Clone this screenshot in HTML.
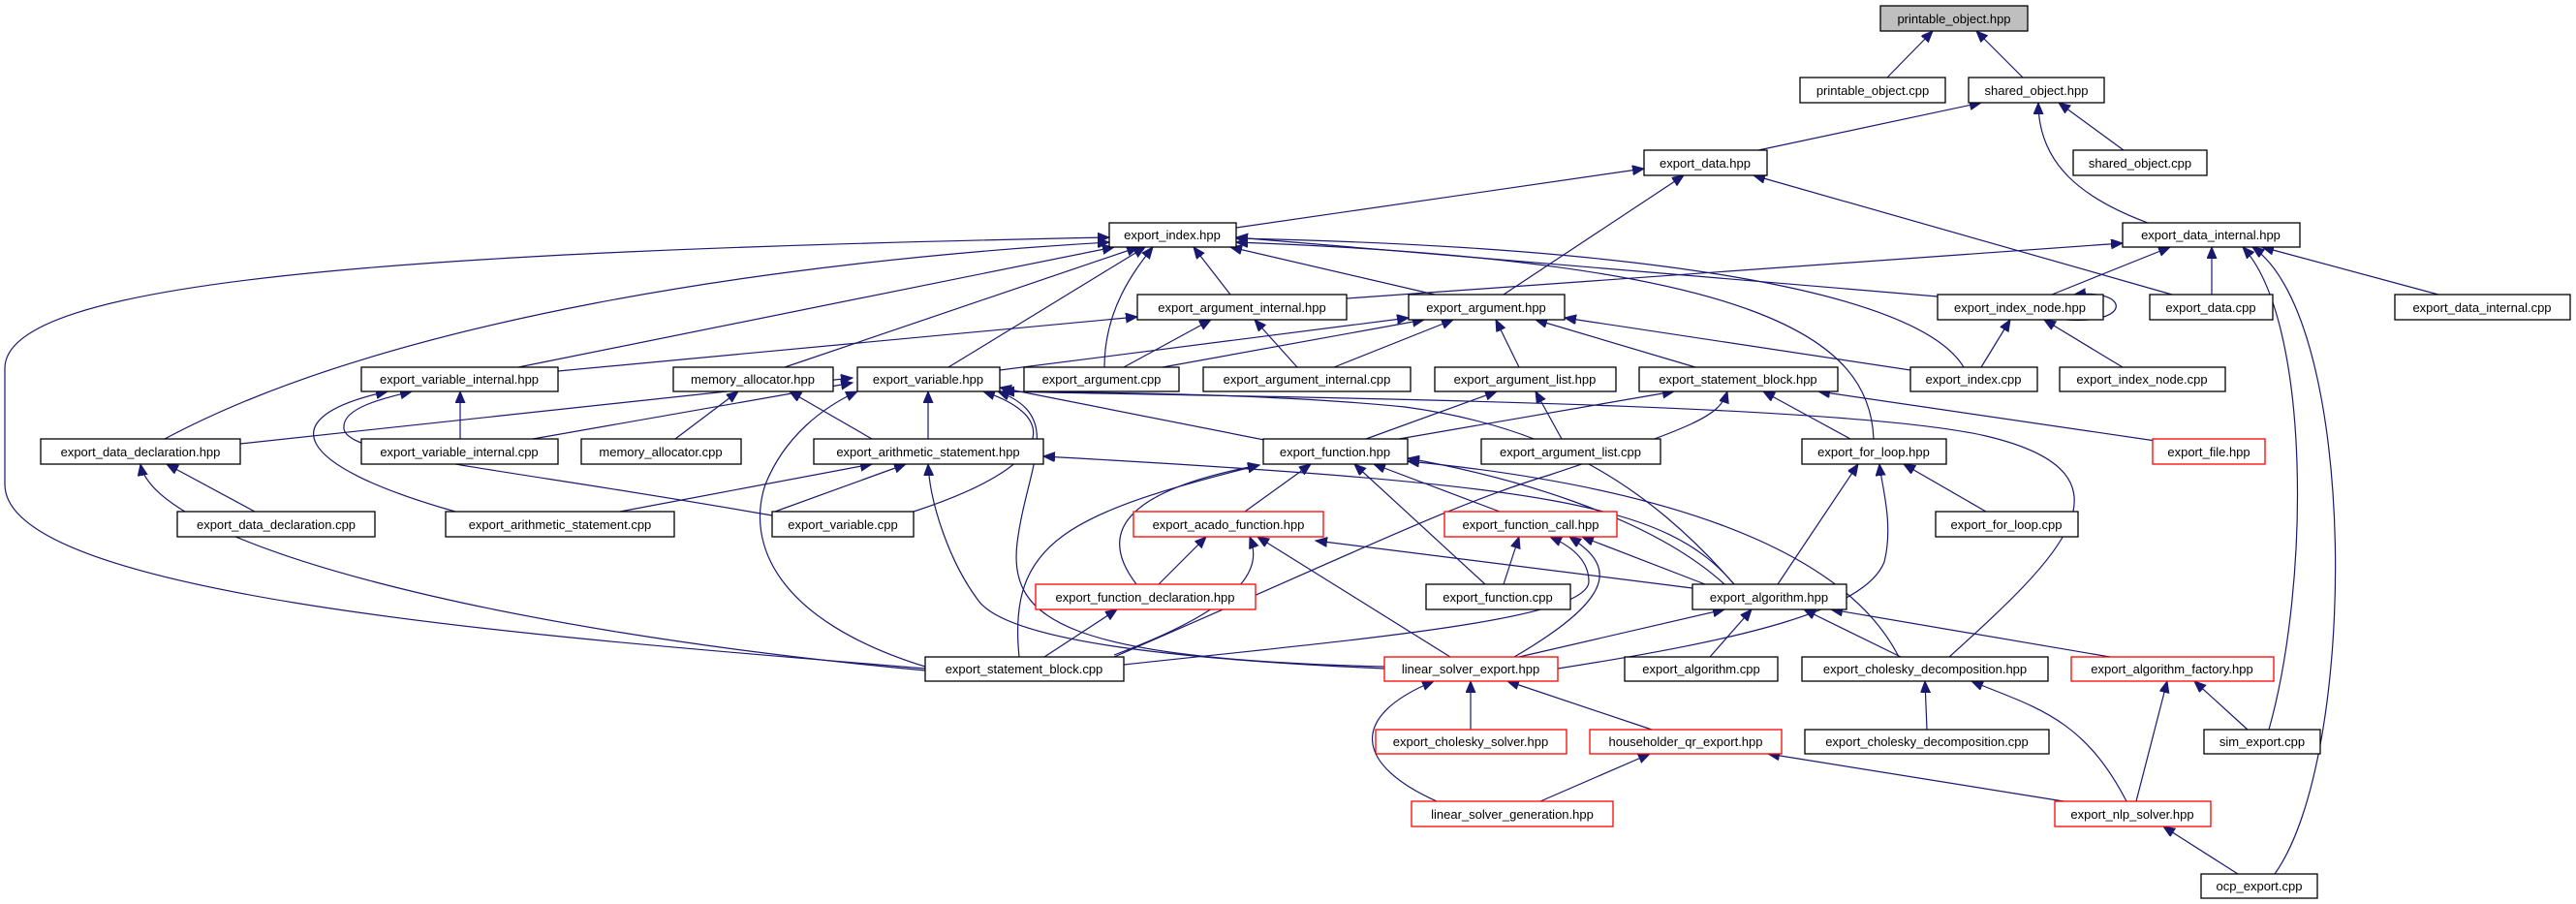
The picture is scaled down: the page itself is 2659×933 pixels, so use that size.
<!DOCTYPE html>
<html><head><meta charset="utf-8"><style>
html,body{margin:0;padding:0;background:#fff;}
svg{display:block;}
text{font-family:"Liberation Sans","DejaVu Sans",sans-serif;font-size:13px;fill:#000;}
.n rect{fill:#fff;stroke:#000;stroke-width:1.3;}
.r rect{fill:#fff;stroke:#ff0000;stroke-width:1.3;}
.e path{fill:none;stroke:#191970;stroke-width:1.2;marker-end:url(#a);}
</style></head><body>
<svg width="2659" height="933" viewBox="0 0 2659 933" xmlns="http://www.w3.org/2000/svg">
<defs><marker id="a" markerUnits="userSpaceOnUse" markerWidth="14" markerHeight="12" refX="12" refY="5" orient="auto"><path d="M0,0 L12,5 L0,10 z" fill="#191970" stroke="#191970"/></marker></defs>
<g class="e">
<path d="M1948,80 L1995,32"/>
<path d="M2088,80 L2040,32"/>
<path d="M1815,155 L2045,106"/>
<path d="M2192,155 L2125,106"/>
<path d="M2217,230 C2150,205 2104,170 2104,106"/>
<path d="M1276,235 L1697,174"/>
<path d="M1552,304 L1738,181"/>
<path d="M2242,304 L1810,181"/>
<path d="M1390,308 L2191,251"/>
<path d="M2118,304 L2240,255"/>
<path d="M2283,304 L2283,255"/>
<path d="M2517,304 L2335,255"/>
<path d="M2342,753 C2385,600 2385,330 2315,255"/>
<path d="M2348,902 C2435,780 2435,330 2325,255"/>
<path d="M2000,306 L1276,245"/>
<path d="M2133,330 C2200,335 2200,298 2141,304"/>
<path d="M2045,379 L2075,330"/>
<path d="M2191,379 L2110,330"/>
<path d="M2027,379 C1980,300 1700,255 1276,246"/>
<path d="M1934,453 C1930,350 1820,270 1276,250"/>
<path d="M1270,304 L1232,255"/>
<path d="M1481,304 L1270,255"/>
<path d="M979,379 L1182,255"/>
<path d="M1140,379 C1140,320 1170,280 1190,255"/>
<path d="M810,379 L1175,255"/>
<path d="M535,379 L1150,255"/>
<path d="M170,453 C400,330 800,270 1145,250"/>
<path d="M955,690 C600,660 5,620 5,500 L5,380 C5,290 400,260 1145,245"/>
<path d="M576,383 L1174,327"/>
<path d="M1160,379 L1250,330"/>
<path d="M1339,379 L1295,330"/>
<path d="M1032,382 L1454,328"/>
<path d="M1200,379 L1470,330"/>
<path d="M1377,379 L1500,330"/>
<path d="M1568,379 L1544,330"/>
<path d="M1750,379 L1585,330"/>
<path d="M1972,382 L1615,328"/>
<path d="M475,453 L475,404"/>
<path d="M470,528 C300,480 280,430 400,404"/>
<path d="M797,532 C500,480 350,470 355,440 C355,420 400,410 425,404"/>
<path d="M697,453 L762,404"/>
<path d="M900,453 L815,404"/>
<path d="M248,458 L880,390"/>
<path d="M550,453 L880,395"/>
<path d="M958,453 L958,404"/>
<path d="M943,528 C1090,480 1095,430 1015,404"/>
<path d="M1310,455 L1032,400"/>
<path d="M955,688 C800,640 770,560 790,500 C810,450 850,420 885,404"/>
<path d="M1429,688 C1100,680 1040,640 1050,560 C1060,480 1100,430 1030,404"/>
<path d="M2012,678 C2120,580 2220,490 2050,450 C1900,415 1300,410 1035,404"/>
<path d="M1790,603 C1700,500 1600,440 1450,420 C1300,405 1100,405 1035,404"/>
<path d="M263,528 L172,479"/>
<path d="M955,692 C500,650 160,560 145,479"/>
<path d="M640,528 L900,479"/>
<path d="M800,528 L935,479"/>
<path d="M1429,690 C1200,680 1040,660 1010,620 C980,580 960,520 958,479"/>
<path d="M1790,603 C1720,520 1600,500 1077,471"/>
<path d="M1410,453 L1545,404"/>
<path d="M1612,453 L1585,404"/>
<path d="M1444,453 L1728,404"/>
<path d="M1910,453 L1820,404"/>
<path d="M2225,455 L1877,404"/>
<path d="M1150,678 C1400,570 1500,520 1600,490 C1750,440 1775,430 1783,404"/>
<path d="M2050,528 L1965,479"/>
<path d="M1835,603 L1918,479"/>
<path d="M1608,690 C1800,660 1925,630 1945,580 C1955,540 1942,500 1940,479"/>
<path d="M1285,528 L1353,479"/>
<path d="M1548,528 L1418,479"/>
<path d="M1533,603 L1398,479"/>
<path d="M1173,603 C1140,560 1140,510 1300,480"/>
<path d="M1052,678 C1040,560 1100,530 1300,480"/>
<path d="M1780,603 C1700,530 1550,490 1453,473"/>
<path d="M1960,678 C1900,560 1700,500 1453,476"/>
<path d="M1196,603 L1245,554"/>
<path d="M1150,676 C1300,620 1300,580 1290,554"/>
<path d="M1497,678 L1298,554"/>
<path d="M1747,607 L1358,558"/>
<path d="M1552,603 L1568,554"/>
<path d="M1160,686 C1400,660 1640,640 1640,600 C1640,580 1625,565 1600,554"/>
<path d="M1563,678 C1680,610 1660,580 1620,554"/>
<path d="M1760,603 L1633,554"/>
<path d="M1078,678 L1153,629"/>
<path d="M1568,678 L1780,629"/>
<path d="M1765,678 L1808,629"/>
<path d="M1962,678 L1862,629"/>
<path d="M2178,678 L1890,629"/>
<path d="M1518,753 L1518,703"/>
<path d="M1705,753 L1556,703"/>
<path d="M1483,827 C1400,790 1390,740 1480,703"/>
<path d="M1590,827 L1703,778"/>
<path d="M2130,827 L1825,778"/>
<path d="M1989,753 L1987,703"/>
<path d="M2195,827 C2150,740 2100,730 2035,703"/>
<path d="M2205,827 L2237,703"/>
<path d="M2320,753 L2265,703"/>
<path d="M2310,902 L2233,853"/>
</g>
<g class="n"><rect x="1941" y="6" width="152" height="26" style="fill:#bfbfbf"/><text x="2017" y="24" text-anchor="middle">printable_object.hpp</text></g>
<g class="n"><rect x="1858" y="80" width="150" height="26"/><text x="1933" y="98" text-anchor="middle">printable_object.cpp</text></g>
<g class="n"><rect x="2032" y="80" width="140" height="26"/><text x="2102" y="98" text-anchor="middle">shared_object.hpp</text></g>
<g class="n"><rect x="2140" y="155" width="138" height="26"/><text x="2209" y="173" text-anchor="middle">shared_object.cpp</text></g>
<g class="n"><rect x="1697" y="155" width="127" height="26"/><text x="1760" y="173" text-anchor="middle">export_data.hpp</text></g>
<g class="n"><rect x="1145" y="230" width="131" height="25"/><text x="1210" y="247" text-anchor="middle">export_index.hpp</text></g>
<g class="n"><rect x="2191" y="230" width="183" height="25"/><text x="2282" y="247" text-anchor="middle">export_data_internal.hpp</text></g>
<g class="n"><rect x="1174" y="304" width="216" height="26"/><text x="1282" y="322" text-anchor="middle">export_argument_internal.hpp</text></g>
<g class="n"><rect x="1454" y="304" width="161" height="26"/><text x="1534" y="322" text-anchor="middle">export_argument.hpp</text></g>
<g class="n"><rect x="2000" y="304" width="171" height="26"/><text x="2085" y="322" text-anchor="middle">export_index_node.hpp</text></g>
<g class="n"><rect x="2219" y="304" width="127" height="26"/><text x="2282" y="322" text-anchor="middle">export_data.cpp</text></g>
<g class="n"><rect x="2472" y="304" width="181" height="26"/><text x="2562" y="322" text-anchor="middle">export_data_internal.cpp</text></g>
<g class="n"><rect x="373" y="379" width="203" height="25"/><text x="474" y="396" text-anchor="middle">export_variable_internal.hpp</text></g>
<g class="n"><rect x="695" y="379" width="165" height="25"/><text x="777" y="396" text-anchor="middle">memory_allocator.hpp</text></g>
<g class="n"><rect x="885" y="379" width="147" height="25"/><text x="958" y="396" text-anchor="middle">export_variable.hpp</text></g>
<g class="n"><rect x="1057" y="379" width="160" height="25"/><text x="1137" y="396" text-anchor="middle">export_argument.cpp</text></g>
<g class="n"><rect x="1242" y="379" width="214" height="25"/><text x="1349" y="396" text-anchor="middle">export_argument_internal.cpp</text></g>
<g class="n"><rect x="1481" y="379" width="187" height="25"/><text x="1574" y="396" text-anchor="middle">export_argument_list.hpp</text></g>
<g class="n"><rect x="1692" y="379" width="205" height="25"/><text x="1794" y="396" text-anchor="middle">export_statement_block.hpp</text></g>
<g class="n"><rect x="1972" y="379" width="131" height="25"/><text x="2037" y="396" text-anchor="middle">export_index.cpp</text></g>
<g class="n"><rect x="2126" y="379" width="171" height="25"/><text x="2211" y="396" text-anchor="middle">export_index_node.cpp</text></g>
<g class="n"><rect x="42" y="453" width="206" height="26"/><text x="145" y="471" text-anchor="middle">export_data_declaration.hpp</text></g>
<g class="n"><rect x="373" y="453" width="203" height="26"/><text x="474" y="471" text-anchor="middle">export_variable_internal.cpp</text></g>
<g class="n"><rect x="600" y="453" width="165" height="26"/><text x="682" y="471" text-anchor="middle">memory_allocator.cpp</text></g>
<g class="n"><rect x="840" y="453" width="237" height="26"/><text x="958" y="471" text-anchor="middle">export_arithmetic_statement.hpp</text></g>
<g class="n"><rect x="1304" y="453" width="149" height="26"/><text x="1378" y="471" text-anchor="middle">export_function.hpp</text></g>
<g class="n"><rect x="1529" y="453" width="185" height="26"/><text x="1621" y="471" text-anchor="middle">export_argument_list.cpp</text></g>
<g class="n"><rect x="1860" y="453" width="149" height="26"/><text x="1934" y="471" text-anchor="middle">export_for_loop.hpp</text></g>
<g class="r"><rect x="2222" y="453" width="116" height="26"/><text x="2280" y="471" text-anchor="middle">export_file.hpp</text></g>
<g class="n"><rect x="183" y="528" width="204" height="26"/><text x="285" y="546" text-anchor="middle">export_data_declaration.cpp</text></g>
<g class="n"><rect x="460" y="528" width="236" height="26"/><text x="578" y="546" text-anchor="middle">export_arithmetic_statement.cpp</text></g>
<g class="n"><rect x="797" y="528" width="146" height="26"/><text x="870" y="546" text-anchor="middle">export_variable.cpp</text></g>
<g class="r"><rect x="1170" y="528" width="196" height="26"/><text x="1268" y="546" text-anchor="middle">export_acado_function.hpp</text></g>
<g class="r"><rect x="1491" y="528" width="178" height="26"/><text x="1580" y="546" text-anchor="middle">export_function_call.hpp</text></g>
<g class="n"><rect x="1998" y="528" width="147" height="26"/><text x="2071" y="546" text-anchor="middle">export_for_loop.cpp</text></g>
<g class="r"><rect x="1069" y="603" width="227" height="26"/><text x="1182" y="621" text-anchor="middle">export_function_declaration.hpp</text></g>
<g class="n"><rect x="1472" y="603" width="149" height="26"/><text x="1546" y="621" text-anchor="middle">export_function.cpp</text></g>
<g class="n"><rect x="1747" y="603" width="159" height="26"/><text x="1826" y="621" text-anchor="middle">export_algorithm.hpp</text></g>
<g class="n"><rect x="955" y="678" width="205" height="25"/><text x="1057" y="695" text-anchor="middle">export_statement_block.cpp</text></g>
<g class="r"><rect x="1429" y="678" width="179" height="25"/><text x="1518" y="695" text-anchor="middle">linear_solver_export.hpp</text></g>
<g class="n"><rect x="1677" y="678" width="158" height="25"/><text x="1756" y="695" text-anchor="middle">export_algorithm.cpp</text></g>
<g class="n"><rect x="1860" y="678" width="254" height="25"/><text x="1987" y="695" text-anchor="middle">export_cholesky_decomposition.hpp</text></g>
<g class="r"><rect x="2138" y="678" width="209" height="25"/><text x="2242" y="695" text-anchor="middle">export_algorithm_factory.hpp</text></g>
<g class="r"><rect x="1420" y="753" width="197" height="25"/><text x="1518" y="770" text-anchor="middle">export_cholesky_solver.hpp</text></g>
<g class="r"><rect x="1641" y="753" width="198" height="25"/><text x="1740" y="770" text-anchor="middle">householder_qr_export.hpp</text></g>
<g class="n"><rect x="1863" y="753" width="252" height="25"/><text x="1989" y="770" text-anchor="middle">export_cholesky_decomposition.cpp</text></g>
<g class="n"><rect x="2275" y="753" width="120" height="25"/><text x="2335" y="770" text-anchor="middle">sim_export.cpp</text></g>
<g class="r"><rect x="1457" y="827" width="208" height="26"/><text x="1561" y="845" text-anchor="middle">linear_solver_generation.hpp</text></g>
<g class="r"><rect x="2121" y="827" width="161" height="26"/><text x="2201" y="845" text-anchor="middle">export_nlp_solver.hpp</text></g>
<g class="n"><rect x="2272" y="902" width="120" height="25"/><text x="2332" y="919" text-anchor="middle">ocp_export.cpp</text></g>
</svg>
</body></html>
